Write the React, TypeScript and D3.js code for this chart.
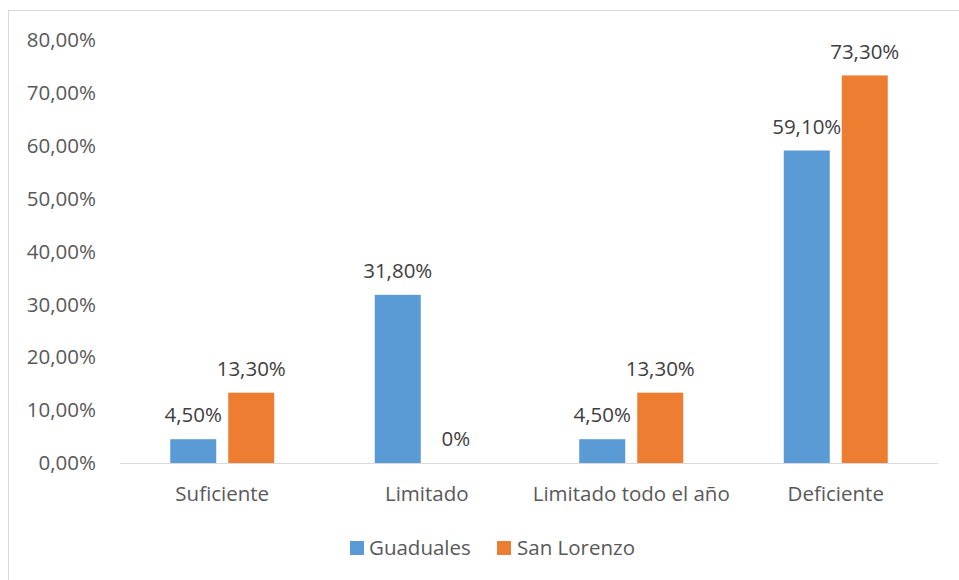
import React from "react";
import * as d3 from "d3";

const categories = ["Suficiente", "Limitado", "Limitado todo el año", "Deficiente"];
const guaduales = [4.5, 31.8, 4.5, 59.1];
const sanLorenzo = [13.3, 0, 13.3, 73.3];
const guadualesLabels = ["4,50%", "31,80%", "4,50%", "59,10%"];
const sanLorenzoLabels = ["13,30%", "0%", "13,30%", "73,30%"];
const yTicks = [0, 10, 20, 30, 40, 50, 60, 70, 80];
const seriesNames = ["Guaduales", "San Lorenzo"];
const colors = ["#5b9bd5", "#ed7d31"];

const W = 959, H = 580;
const font = "'Open Sans', sans-serif";
const fs = 20.5;

export default function App() {
  const x = d3.scaleBand<string>().domain(categories).range([120, 938]);
  const y = d3.scaleLinear().domain([0, 80]).range([463, 40]);
  const barW = 46, gap = 12;
  const fmtTick = (v: number) => v.toFixed(2).replace(".", ",") + "%";
  const series = [guaduales, sanLorenzo];
  const labels = [guadualesLabels, sanLorenzoLabels];

  return (
    <svg width={W} height={H} style={{ position: "absolute", left: 0, top: 0 }}>
      <rect x={0} y={0} width={W} height={H} fill="#fff" />
      <rect x={8.5} y={10.5} width={W + 20} height={H + 20} fill="none" stroke="#d9d9d9" strokeWidth={1} />
      {yTicks.map((t) => (
        <text key={t} x={96} y={y(t)} dy="0.35em" textAnchor="end" fontFamily={font} fontSize={fs} fill="#595959">
          {fmtTick(t)}
        </text>
      ))}
      <line x1={120} x2={938} y1={y(0) + 0.5} y2={y(0) + 0.5} stroke="#d9d9d9" strokeWidth={1} />
      {categories.map((c, i) => {
        const cx = x(c)! + x.bandwidth() / 2;
        return (
          <g key={c}>
            {series.map((s, j) => {
              const bx = j === 0 ? cx - gap / 2 - barW : cx + gap / 2;
              return (
                <g key={j}>
                  <rect x={bx} y={y(s[i])} width={barW} height={y(0) - y(s[i])} fill={colors[j]} />
                  <text x={bx + barW / 2} y={y(s[i]) - 24} dy="0.35em" textAnchor="middle" fontFamily={font} fontSize={fs} fill="#404040">
                    {labels[j][i]}
                  </text>
                </g>
              );
            })}
            <text x={cx} y={494} dy="0.35em" textAnchor="middle" fontFamily={font} fontSize={fs} fill="#595959">
              {c}
            </text>
          </g>
        );
      })}
      <g>
        <rect x={350} y={541} width={14} height={14} fill={colors[0]} />
        <text x={369} y={548} dy="0.35em" fontFamily={font} fontSize={fs} fill="#595959">{seriesNames[0]}</text>
        <rect x={497} y={541} width={14} height={14} fill={colors[1]} />
        <text x={517} y={548} dy="0.35em" fontFamily={font} fontSize={fs} fill="#595959">{seriesNames[1]}</text>
      </g>
    </svg>
  );
}
